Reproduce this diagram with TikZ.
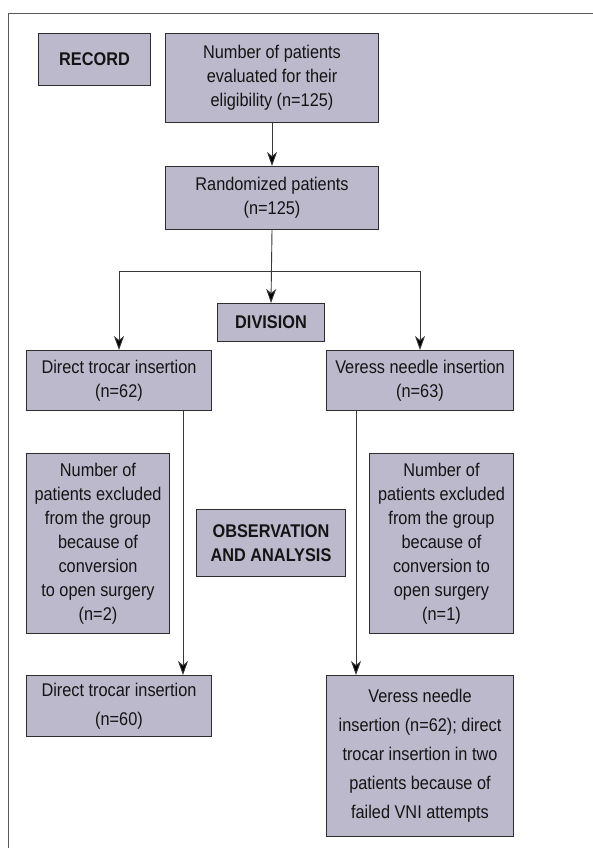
\documentclass[tikz,border=0pt]{standalone}
\usepackage{fontspec}
\setmainfont{Liberation Sans}[FakeStretch=0.886]
\usetikzlibrary{arrows.meta}
\definecolor{boxfill}{RGB}{188,185,204}
\definecolor{boxline}{RGB}{45,45,45}
\definecolor{conn}{RGB}{55,55,55}
\tikzset{
  box/.style={draw=boxline, line width=1pt, fill=boxfill, anchor=north west, inner sep=0pt,
    align=center, font=\fontsize{18.4pt}{24pt}\selectfont, text=black!92},
  boldbox/.style={box, font=\fontsize{18.4pt}{23.5pt}\selectfont\bfseries},
  arr/.style={draw=conn, line width=0.9pt, -{Stealth[length=14pt,width=10pt,inset=4pt,fill=black]}},
  plain/.style={draw=conn, line width=0.9pt}
}
\begin{document}
\begin{tikzpicture}[x=1pt,y=-1pt]
\useasboundingbox (0,0) rectangle (593,848);
% outer frame (top and left edges)
\draw[draw=black!65, line width=1pt] (8,848) -- (8,14) -- (593,14);

\node[boldbox, minimum width=112pt, minimum height=52pt] (rec) at (38,33) {RECORD};
\node[box, minimum width=213pt, minimum height=89pt] (eval) at (165,33)
  {Number of patients\\evaluated for their\\eligibility (n=125)};
\node[box, minimum width=213pt, minimum height=63pt] (rand) at (165,166)
  {Randomized patients\\(n=125)};
\node[boldbox, minimum width=107pt, minimum height=38pt] (div) at (217,303) {DIVISION};
\node[box, minimum width=185pt, minimum height=60pt] (dti) at (26,350)
  {Direct trocar insertion\\(n=62)};
\node[box, minimum width=187pt, minimum height=60pt] (vni) at (326,350)
  {Veress needle insertion\\(n=63)};
\node[box, minimum width=143pt, minimum height=180pt] (exl) at (26,453)
  {Number of\\patients excluded\\from the group\\because of\\conversion\\to open surgery\\(n=2)};
\node[box, minimum width=144pt, minimum height=180pt] (exr) at (369,453)
  {Number of\\patients excluded\\from the group\\because of\\conversion to\\open surgery\\(n=1)};
\node[boldbox, minimum width=149pt, minimum height=67pt] (obs) at (196,509)
  {OBSERVATION\\AND ANALYSIS};
\node[box, font=\fontsize{18.4pt}{29pt}\selectfont, minimum width=185pt, minimum height=61pt] (dtf) at (26,675)
  {Direct trocar insertion\\(n=60)};
\node[box, font=\fontsize{18.4pt}{29pt}\selectfont, minimum width=187pt, minimum height=161pt] (vnf) at (326,675)
  {Veress needle\\insertion (n=62); direct\\trocar insertion in two\\patients because of\\failed VNI attempts};

\coordinate (br) at (271.5,271);
\coordinate (lx) at (183,0);
\coordinate (rx) at (356,0);

\draw[arr] (eval.south) -- (rand.north);
\draw[arr] (rand.south) -- (div.north);
\draw[plain] (br -| dti.north) -- (br -| vni.north);
\draw[arr] (br -| dti.north) -- (dti.north);
\draw[arr] (br -| vni.north) -- (vni.north);
\draw[arr] (dti.south -| lx) -- (dtf.north -| lx);
\draw[arr] (vni.south -| rx) -- (vnf.north -| rx);
\end{tikzpicture}
\end{document}
